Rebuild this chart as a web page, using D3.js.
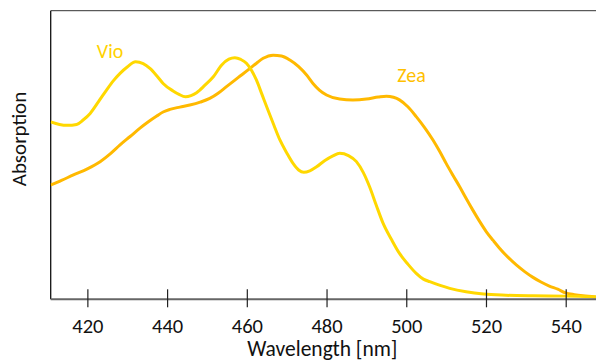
<!DOCTYPE html>
<html>
<head>
<meta charset="utf-8">
<script src="https://cdn.jsdelivr.net/npm/d3@7"></script>
<style>
  html, body { margin: 0; padding: 0; background: #fff; }
  svg { display: block; font-family: Carlito, Lato, "Open Sans", sans-serif; }
</style>
</head>
<body>
<svg id="chart" width="596" height="362"></svg>
<script>
// Absorption spectra of violaxanthin (Vio) and zeaxanthin (Zea)
const vioWavelength = [410.8, 413, 415, 417.3, 419, 420.7, 422.8, 424.8, 426.5, 428.2, 430, 432.1, 434, 435.7, 437.5, 439, 441.5, 443, 444.6, 446, 447.4, 449.5, 451.6, 453.7, 455.5, 457, 458.5, 459.9, 461.2, 462.4, 463.8, 465.3, 466.8, 468.3, 470, 471.6, 473, 474.3, 475.8, 477.5, 479.5, 481.6, 483.3, 485.5, 487.5, 489.2, 490.8, 492.5, 494.2, 496.3, 498.3, 500.4, 502.5, 504.3, 505.9, 508.5, 510.9, 515, 519.4, 525, 531.8, 540, 547.6];
const vioAbsorption = [0.615, 0.606, 0.603, 0.606, 0.622, 0.644, 0.685, 0.725, 0.757, 0.783, 0.805, 0.823, 0.817, 0.800, 0.773, 0.748, 0.722, 0.710, 0.702, 0.706, 0.716, 0.742, 0.771, 0.812, 0.832, 0.837, 0.831, 0.818, 0.793, 0.760, 0.710, 0.656, 0.603, 0.552, 0.508, 0.471, 0.448, 0.440, 0.445, 0.459, 0.480, 0.497, 0.506, 0.498, 0.477, 0.440, 0.390, 0.325, 0.263, 0.207, 0.159, 0.122, 0.090, 0.070, 0.061, 0.048, 0.038, 0.026, 0.018, 0.014, 0.012, 0.011, 0.008];

const zeaWavelength = [410.8, 413.5, 416.5, 420, 423.2, 425.8, 428.2, 430.8, 433.2, 435.3, 437.4, 439, 440.7, 443.2, 445.7, 448.3, 450.7, 452.8, 454.9, 457.8, 460.8, 462.5, 464.1, 466.6, 468.7, 470.8, 473, 475, 476.6, 478.2, 480, 483.3, 486.6, 490, 493, 495, 496.8, 498.3, 500.4, 502.5, 504.6, 506.7, 508.4, 510, 511.7, 513.4, 515, 516.7, 518.4, 520.1, 521.8, 523.4, 525.5, 527.6, 529.7, 531.8, 533.8, 535.9, 538, 540, 542.2, 544.3, 547.6];
const zeaAbsorption = [0.396, 0.412, 0.431, 0.452, 0.477, 0.505, 0.535, 0.565, 0.593, 0.615, 0.635, 0.649, 0.658, 0.666, 0.673, 0.683, 0.696, 0.714, 0.737, 0.768, 0.800, 0.819, 0.835, 0.846, 0.843, 0.829, 0.806, 0.777, 0.748, 0.725, 0.708, 0.694, 0.691, 0.694, 0.701, 0.704, 0.700, 0.691, 0.667, 0.633, 0.595, 0.552, 0.512, 0.471, 0.430, 0.390, 0.350, 0.309, 0.270, 0.234, 0.204, 0.177, 0.146, 0.119, 0.096, 0.076, 0.060, 0.046, 0.035, 0.022, 0.016, 0.012, 0.008];

const xTicks = [420, 440, 460, 480, 500, 520, 540];
const seriesNames = ["Vio", "Zea"];
const seriesColors = ["#FFD800", "#FFB900"];
const labelColors = ["#FFD200", "#FFC000"];

const svg = d3.select("#chart");
const plotLeft = 50.7, plotRight = 596, plotTop = 10.7, plotBottom = 299.3;

const x = d3.scaleLinear().domain([410.8, 547.6]).range([plotLeft, plotRight]);
const y = d3.scaleLinear().domain([0, 1]).range([plotBottom, plotTop]);

svg.append("defs").append("clipPath").attr("id", "plot-clip")
  .append("rect").attr("x", plotLeft).attr("y", plotTop)
  .attr("width", plotRight - plotLeft).attr("height", plotBottom - plotTop);

// Frame: top and left edges
svg.append("line").attr("x1", plotLeft).attr("x2", plotRight).attr("y1", plotTop).attr("y2", plotTop)
  .attr("stroke", "#333").attr("stroke-width", 1);
svg.append("line").attr("x1", plotLeft).attr("x2", plotLeft).attr("y1", plotTop).attr("y2", plotBottom)
  .attr("stroke", "#111").attr("stroke-width", 1.3);

// Spectra
const line = d3.line().x(d => x(d[0])).y(d => y(d[1])).curve(d3.curveMonotoneX);
const series = [
  d3.zip(vioWavelength, vioAbsorption),
  d3.zip(zeaWavelength, zeaAbsorption)
];
const plot = svg.append("g").attr("clip-path", "url(#plot-clip)");
// draw Zea first so Vio sits on top where they meet at the tail
[1, 0].forEach(i => {
  plot.append("path").datum(series[i])
    .attr("d", line)
    .attr("fill", "none")
    .attr("stroke", seriesColors[i])
    .attr("stroke-width", 3)
    .attr("stroke-linejoin", "round");
});

// Bottom axis
const xAxis = d3.axisBottom(x).tickValues(xTicks).tickSize(0).tickPadding(0);
const gx = svg.append("g").attr("transform", `translate(0,${plotBottom})`).call(xAxis);
gx.select(".domain").attr("stroke", "#666").attr("stroke-width", 2).attr("d", `M${plotLeft},0H${plotRight}`);
gx.selectAll(".tick line").remove();
gx.selectAll(".tick").append("line")
  .attr("y1", -10).attr("y2", 8)
  .attr("stroke", "#222").attr("stroke-width", 1.2);
gx.selectAll(".tick text")
  .attr("y", 34).attr("dy", null)
  .attr("fill", "#111")
  .attr("font-size", 20.5)
  .attr("font-family", "Carlito, Lato, 'Open Sans', sans-serif");

// Axis titles
svg.append("text")
  .attr("x", (plotLeft + plotRight) / 2 - 1).attr("y", 356)
  .attr("text-anchor", "middle")
  .attr("font-size", 21.5).attr("fill", "#111")
  .text("Wavelength [nm]");
svg.append("text")
  .attr("transform", "translate(26,139) rotate(-90)")
  .attr("text-anchor", "middle")
  .attr("font-size", 21).attr("fill", "#111")
  .text("Absorption");

// Series labels
const labelPos = [[425.7, 0.836], [501.3, 0.753]];
seriesNames.forEach((name, i) => {
  svg.append("text")
    .attr("x", x(labelPos[i][0])).attr("y", y(labelPos[i][1]))
    .attr("text-anchor", "middle")
    .attr("font-size", 20)
    .attr("fill", labelColors[i])
    .text(name);
});
</script>
</body>
</html>
